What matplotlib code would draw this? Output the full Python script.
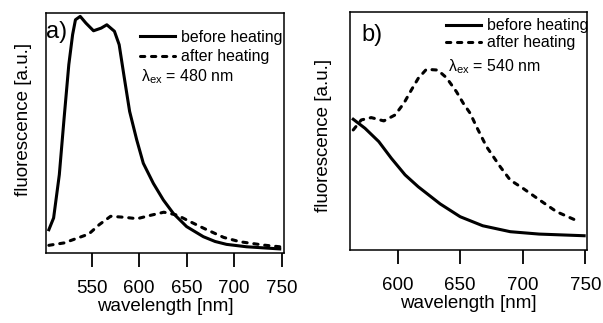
import numpy as np
import matplotlib
matplotlib.use('Agg')
import matplotlib.pyplot as plt

plt.rcParams['font.family'] = ['Liberation Sans', 'DejaVu Sans']
plt.rcParams['mathtext.fontset'] = 'custom'
plt.rcParams['mathtext.rm'] = 'Liberation Sans'
plt.rcParams['mathtext.it'] = 'Liberation Sans:italic'

# panel a (excitation 480 nm)
wl_a_before = [505, 510, 516, 521, 526, 530, 533, 538, 544, 552, 560, 566, 574, 579, 584, 590, 597.5,
               604.4, 615, 625.5, 636, 650, 667.6, 680, 692, 713, 748]
fl_a_before = [0.097, 0.146, 0.326, 0.56, 0.785, 0.91, 0.972, 0.986, 0.958, 0.926, 0.937, 0.951, 0.924,
               0.868, 0.74, 0.59, 0.471, 0.374, 0.29, 0.221, 0.165, 0.11, 0.068, 0.048, 0.036, 0.026,
               0.017]
wl_a_after = [505, 521, 535, 547, 558, 570, 584, 598, 612, 626, 640, 654, 668, 689, 706, 731, 748]
fl_a_after = [0.032, 0.042, 0.062, 0.079, 0.118, 0.153, 0.149, 0.143, 0.157, 0.17, 0.158, 0.13, 0.103,
              0.065, 0.047, 0.033, 0.026]

# panel b (excitation 540 nm)
wl_b_before = [564.6, 574, 585, 595, 606, 616.5, 634, 650, 668, 690, 713, 749]
fl_b_before = [0.55, 0.512, 0.456, 0.386, 0.316, 0.266, 0.194, 0.14, 0.102, 0.077, 0.067, 0.06]
wl_b_after = [564.6, 571, 579, 589, 598, 605, 611, 616.5, 623, 632, 639, 647, 652.5, 658, 663, 671,
              682, 690, 700, 713.5, 727, 745]
fl_b_after = [0.505, 0.547, 0.557, 0.543, 0.568, 0.617, 0.673, 0.722, 0.76, 0.757, 0.725, 0.666,
              0.617, 0.575, 0.519, 0.435, 0.35, 0.294, 0.26, 0.21, 0.161, 0.119]

ticks_a = [550, 600, 650, 700, 750]
ticks_b = [600, 650, 700, 750]

fig = plt.figure(figsize=(6.03, 3.23), dpi=100)
ax1 = fig.add_axes([0.0763, 0.2167, 0.3947, 0.743])
ax2 = fig.add_axes([0.5804, 0.226, 0.3925, 0.736])

dash = (0, (1.4, 2.2))
lw = 2.2
fs = 11.4

def style(ax, ticks, xlim, lx, ly):
    ax.set_xlim(*xlim)
    ax.set_ylim(0, 1)
    ax.set_xticks(ticks)
    ax.set_yticks([])
    ax.tick_params(axis='x', direction='out', length=10, width=1.3, labelsize=13.5, pad=9.5)
    for s in ax.spines.values():
        s.set_linewidth(1.1)
    ax.set_xlabel('wavelength [nm]', fontsize=13.5, labelpad=1)
    ax.set_ylabel('fluorescence [a.u.]', fontsize=13.5)
    ax.yaxis.set_label_coords(lx, ly)

ax1.plot(wl_a_before, fl_a_before, color='k', lw=lw, label='before heating', solid_joinstyle='round')
ax1.plot(wl_a_after, fl_a_after, color='k', lw=lw, ls=dash, dash_capstyle='round', label='after heating')
style(ax1, ticks_a, (502, 752.5), -0.058, 0.555)
ax1.legend(loc='upper right', bbox_to_anchor=(0.995, 0.93), frameon=False, fontsize=fs,
           handlelength=2.2, handletextpad=0.4, labelspacing=0.28, borderaxespad=0, borderpad=0)
ax1.text(0.40, 0.733, 'λ$_{\\mathrm{ex}}$ = 480 nm', transform=ax1.transAxes, fontsize=fs, va='center')
ax1.text(0.0, 0.92, 'a)', transform=ax1.transAxes, fontsize=17, va='center')

ax2.plot(wl_b_before, fl_b_before, color='k', lw=lw, label='before heating', solid_joinstyle='round')
ax2.plot(wl_b_after, fl_b_after, color='k', lw=lw, ls=dash, dash_capstyle='round', label='after heating')
style(ax2, ticks_b, (562, 751), -0.076, 0.484)
ax2.legend(loc='upper right', bbox_to_anchor=(1.008, 0.975), frameon=False, fontsize=fs,
           handlelength=2.2, handletextpad=0.4, labelspacing=0.14, borderaxespad=0, borderpad=0)
ax2.text(0.413, 0.77, 'λ$_{\\mathrm{ex}}$ = 540 nm', transform=ax2.transAxes, fontsize=fs, va='center')
ax2.text(0.05, 0.905, 'b)', transform=ax2.transAxes, fontsize=17, va='center')

plt.savefig('out.png', dpi=100)
